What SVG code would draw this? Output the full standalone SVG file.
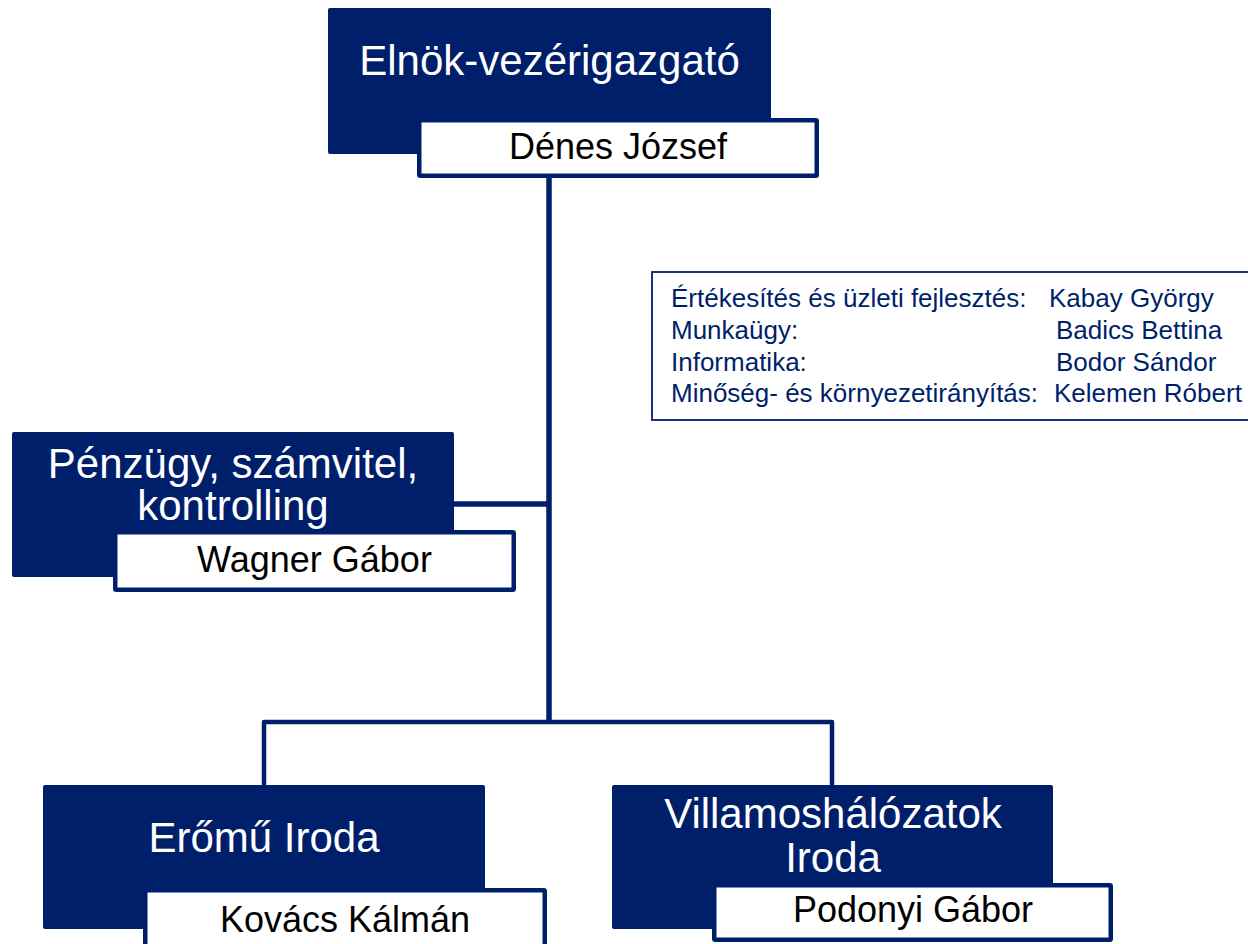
<svg xmlns="http://www.w3.org/2000/svg" width="1248" height="944" viewBox="0 0 1248 944">
<style>
.dark{fill:#001f6b;}
.name{fill:#ffffff;stroke:#001f6b;stroke-width:4.5;}
.title{font-family:"Liberation Sans",Arial,sans-serif;font-size:42px;fill:#ffffff;text-anchor:middle;}
.person{font-family:"Liberation Sans",Arial,sans-serif;font-size:36px;fill:#000000;text-anchor:middle;}
.info{font-family:"Liberation Sans",Arial,sans-serif;font-size:26px;fill:#001f6b;}
.conn{fill:none;stroke:#001f6b;stroke-linejoin:round;}
</style>
<rect width="1248" height="944" fill="#ffffff"/>
<g id="connectors">
<path class="conn" stroke-width="5.5" d="M549 178 V722 M454 504 H549"/>
<path class="conn" stroke-width="4.5" d="M264 786 V722 H832 V786"/>
</g>
<g id="node-ceo">
<rect class="dark" x="328" y="8" width="443" height="146" rx="2"/>
<rect class="name" x="419.25" y="120.25" width="397.5" height="55.5" rx="1"/>
<text class="title" x="549.5" y="75">Elnök-vezérigazgató</text>
<text class="person" x="618" y="159">Dénes József</text>
</g>
<g id="node-finance">
<rect class="dark" x="12" y="432" width="442" height="145" rx="2"/>
<rect class="name" x="115.25" y="532.25" width="398.5" height="57.5" rx="1"/>
<text class="title" x="233" y="478">Pénzügy, számvitel,</text>
<text class="title" x="233" y="520">kontrolling</text>
<text class="person" x="314.5" y="572">Wagner Gábor</text>
</g>
<g id="node-power">
<rect class="dark" x="43" y="785" width="442" height="144" rx="2"/>
<rect class="name" x="145.25" y="890.25" width="399.5" height="70" rx="1"/>
<text class="title" x="264" y="852">Erőmű Iroda</text>
<text class="person" x="345" y="932">Kovács Kálmán</text>
</g>
<g id="node-grid">
<rect class="dark" x="612" y="785" width="441" height="144" rx="2"/>
<rect class="name" x="714.25" y="885.25" width="396.5" height="54.5" rx="1"/>
<text class="title" x="833" y="828">Villamoshálózatok</text>
<text class="title" x="833" y="872">Iroda</text>
<text class="person" x="913" y="922">Podonyi Gábor</text>
</g>
<g id="node-staff">
<rect x="652" y="272" width="620" height="148" fill="#ffffff" stroke="#001f6b" stroke-width="1.8"/>
<text class="info" x="671" y="307">Értékesítés és üzleti fejlesztés:<tspan x="1049">Kabay György</tspan></text>
<text class="info" x="671" y="339">Munkaügy:<tspan x="1056">Badics Bettina</tspan></text>
<text class="info" x="671" y="371">Informatika:<tspan x="1056">Bodor Sándor</tspan></text>
<text class="info" x="671" y="402">Minőség- és környezetirányítás:<tspan x="1054">Kelemen Róbert</tspan></text>
</g>
</svg>
